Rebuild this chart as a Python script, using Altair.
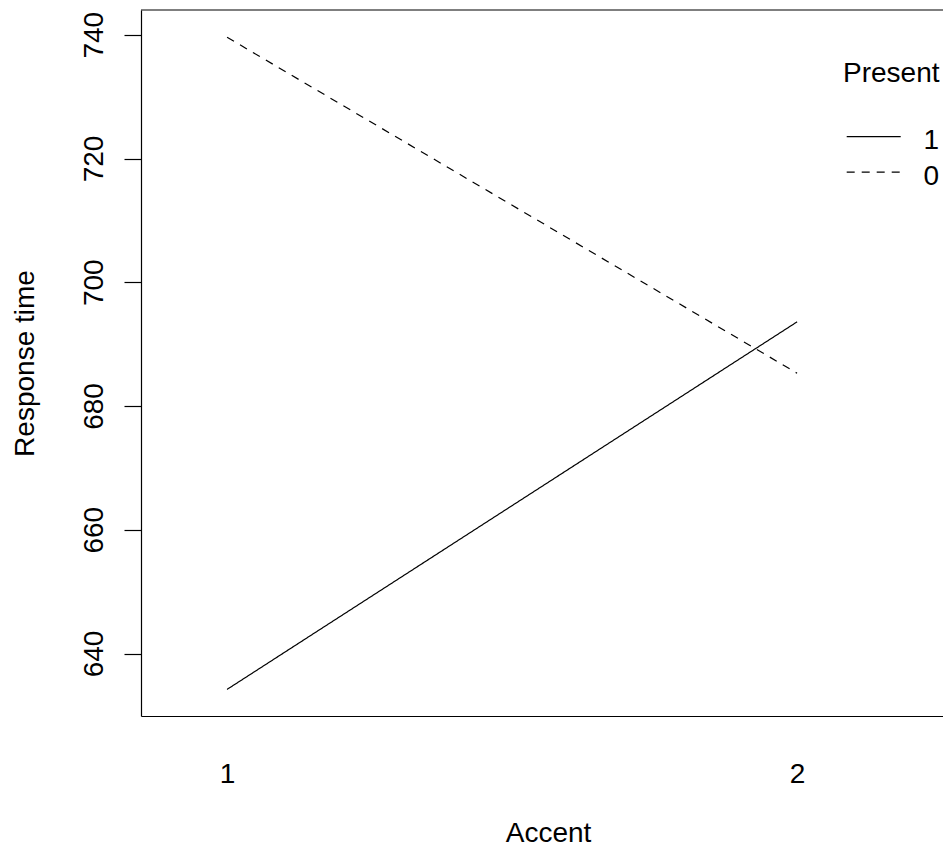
import altair as alt
import pandas as pd

# ---- data ----
accent = [1, 2]
present_levels = ["1", "0"]
resp_present1 = [634.2, 693.6]
resp_present0 = [739.6, 685.3]
y_ticks = [640, 660, 680, 700, 720, 740]

rows = []
for lvl, vals in zip(present_levels, [resp_present1, resp_present0]):
    for a, v in zip(accent, vals):
        rows.append({"Accent": a, "Present": lvl, "Response": v})
df = pd.DataFrame(rows)

FONT = "Liberation Sans"
FS = 28
W, H = 802, 706
DASHES = [[1, 0], [8, 7]]
LW = 1.2

x_scale = alt.Scale(domain=[0.849, 0.849 + W / 570.0], nice=False, zero=False)
y_scale = alt.Scale(domain=[629.9, 744.0], nice=False, zero=False)

lines = alt.Chart(df).mark_line(color="black", strokeWidth=LW, clip=True).encode(
    x=alt.X(
        "Accent:Q",
        scale=x_scale,
        axis=alt.Axis(
            values=accent, format="d", title="Accent",
            ticks=False, tickSize=0, domain=True, domainColor="black", domainWidth=LW,
            grid=False, labelPadding=66.7, labelBaseline="alphabetic", labelAlign="center",
            labelFlush=False, labelFontSize=FS, labelFont=FONT, labelColor="black",
            titleFont=FONT, titleFontSize=FS, titleColor="black", titleFontWeight="normal",
            titleX=407, titleY=125, titleBaseline="alphabetic", titleAlign="center",
        ),
    ),
    y=alt.Y(
        "Response:Q",
        scale=y_scale,
        axis=alt.Axis(
            values=y_ticks, title="Response time",
            ticks=True, tickSize=17, tickColor="black", tickWidth=LW,
            domain=True, domainColor="black", domainWidth=LW, grid=False,
            labelAngle=270, labelAlign="center", labelBaseline="alphabetic",
            labelPadding=22, labelFlush=False, labelOverlap=False,
            labelFontSize=FS, labelFont=FONT, labelColor="black",
            titleFont=FONT, titleFontSize=FS, titleColor="black", titleFontWeight="normal",
            titleAngle=270, titleX=-107.7, titleY=353,
            titleAlign="center", titleBaseline="alphabetic",
        ),
    ),
    strokeDash=alt.StrokeDash(
        "Present:N",
        scale=alt.Scale(domain=present_levels, range=DASHES),
        legend=None,
    ),
    detail="Present:N",
)

# top border of the plot box
top_border = alt.Chart(pd.DataFrame({"b": [0]})).mark_rule(
    color="black", strokeWidth=LW
).encode(x=alt.value(0), x2=alt.value(W), y=alt.value(0))

# legend (drawn by hand, like R's interaction.plot)
LX = -6  # shift so the legend stays inside the page
leg_title = alt.Chart(pd.DataFrame({"t": ["Present"]})).mark_text(
    font=FONT, fontSize=FS, color="black", align="left", baseline="alphabetic"
).encode(text="t:N", x=alt.value(708 + LX), y=alt.value(71.7))

legend_layers = []
for i, (lvl, dash) in enumerate(zip(present_levels, DASHES)):
    yy = 126.7 + i * 35.5
    legend_layers.append(
        alt.Chart(pd.DataFrame({"p": [lvl]})).mark_rule(
            color="black", strokeWidth=LW, strokeDash=dash
        ).encode(x=alt.value(711.7 + LX), x2=alt.value(765.7 + LX), y=alt.value(yy))
    )
    legend_layers.append(
        alt.Chart(pd.DataFrame({"p": [lvl]})).mark_text(
            font=FONT, fontSize=FS, color="black", align="left", baseline="alphabetic"
        ).encode(text="p:N", x=alt.value(788.5 + LX), y=alt.value(yy + 12.5))
    )

chart = alt.layer(lines, top_border, leg_title, *legend_layers).properties(
    width=W, height=H,
    padding={"left": 133, "top": 2, "right": 0, "bottom": 131},
    autosize=alt.AutoSizeParams(type="none"),
    background="white",
).configure_view(stroke=None)

chart.save("out.html", embed_options={"renderer": "svg", "actions": False})
